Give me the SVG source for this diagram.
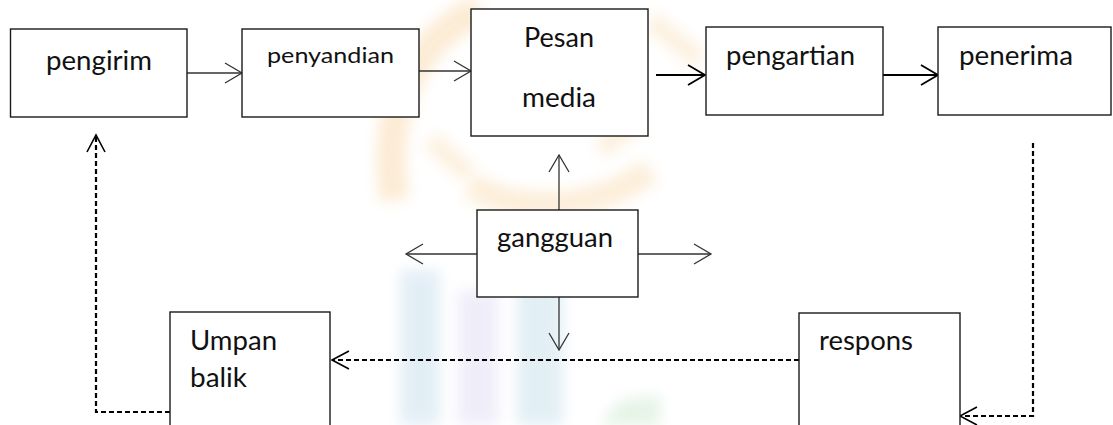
<svg xmlns="http://www.w3.org/2000/svg" width="1113" height="425" viewBox="0 0 1113 425">
<style>
.box{fill:#fff;stroke:#1a1a1a;stroke-width:1.4}
.lbl{font-family:Lato,"Liberation Sans",sans-serif;font-size:26px;fill:#111}
.sm{font-size:22px}
.thin{fill:none;stroke:#333;stroke-width:1.3}
.thick{fill:none;stroke:#000;stroke-width:2}
.dash{fill:none;stroke:#000;stroke-width:2.2;stroke-dasharray:5 3}
</style>
<defs>
<filter id="soft" x="-20%" y="-20%" width="140%" height="140%">
<feGaussianBlur stdDeviation="7"/>
</filter>
<marker id="hThin" markerUnits="userSpaceOnUse" markerWidth="20" markerHeight="22" refX="17" refY="10" orient="auto" overflow="visible">
<path d="M0,0 L17,10 L0,20" fill="none" stroke="#333" stroke-width="1.3"/>
</marker>
<marker id="hThick" markerUnits="userSpaceOnUse" markerWidth="20" markerHeight="22" refX="17" refY="10" orient="auto" overflow="visible">
<path d="M0,0 L17,10 L0,20" fill="none" stroke="#000" stroke-width="1.8"/>
</marker>
<marker id="hDash" markerUnits="userSpaceOnUse" markerWidth="20" markerHeight="22" refX="17" refY="9" orient="auto" overflow="visible">
<path d="M0,0 L17,9 L0,18" fill="none" stroke="#000" stroke-width="1.6" stroke-dasharray="none"/>
</marker>
</defs>
<rect width="1113" height="425" fill="#fff"/>
<g id="watermark" opacity="0.4" filter="url(#soft)">
<path d="M395,200 C380,120 410,40 480,10" fill="none" stroke="#f7cf95" stroke-width="30"/>
<path d="M470,185 C520,215 600,210 650,170" fill="none" stroke="#f8d6a4" stroke-width="26"/>
<path d="M430,140 L470,175 M600,150 L640,120 M650,20 L700,60" fill="none" stroke="#f9dcb0" stroke-width="20"/>
<rect x="400" y="270" width="40" height="155" fill="#b9d6e8"/>
<rect x="458" y="290" width="40" height="135" fill="#d9d3f0"/>
<rect x="517" y="270" width="46" height="155" fill="#b8d8e6"/>
<path d="M600,425 L620,400 L660,395 L660,425 Z" fill="#bfe3c2"/>
</g>
<g id="connectors">
<path class="thin" d="M187,73 L242,73" marker-end="url(#hThin)"/>
<path class="thin" d="M419,71 L471,71" marker-end="url(#hThin)"/>
<path class="thick" d="M656,75 L705,75" marker-end="url(#hThick)"/>
<path class="thick" d="M883,75 L938,75" marker-end="url(#hThick)"/>
<path class="thin" d="M559,210 L559,155" marker-end="url(#hThin)"/>
<path class="thin" d="M477,254 L406,254" marker-end="url(#hThin)"/>
<path class="thin" d="M638,254 L711,254" marker-end="url(#hThin)"/>
<path class="thin" d="M559,297 L559,350" marker-end="url(#hThin)"/>
<path class="dash" d="M1033,143 L1033,416 L960,416" marker-end="url(#hDash)"/>
<path class="dash" d="M799,360 L332,360" marker-end="url(#hDash)"/>
<path class="dash" d="M170,412 L96,412 L96,135" marker-end="url(#hDash)"/>
</g>
<g id="pengirim">
<rect class="box" x="10.5" y="29" width="176.5" height="88"/>
<text class="lbl" x="46" y="70" textLength="106" lengthAdjust="spacingAndGlyphs">pengirim</text>
</g>
<g id="penyandian">
<rect class="box" x="242" y="29" width="177" height="88"/>
<text class="lbl sm" x="267" y="63" textLength="127" lengthAdjust="spacingAndGlyphs">penyandian</text>
</g>
<g id="pesan-media">
<rect class="box" x="471" y="9" width="177" height="127"/>
<text class="lbl" x="524" y="47" textLength="70" lengthAdjust="spacingAndGlyphs">Pesan</text>
<text class="lbl" x="522" y="107" textLength="74" lengthAdjust="spacingAndGlyphs">media</text>
</g>
<g id="pengartian">
<rect class="box" x="706" y="27" width="177" height="88"/>
<text class="lbl" x="726" y="65" textLength="129" lengthAdjust="spacingAndGlyphs">pengartian</text>
</g>
<g id="penerima">
<rect class="box" x="938" y="27" width="173" height="88"/>
<text class="lbl" x="959" y="65" textLength="114" lengthAdjust="spacingAndGlyphs">penerima</text>
</g>
<g id="gangguan">
<rect class="box" x="477" y="210" width="161" height="87"/>
<text class="lbl" x="497" y="247" textLength="116" lengthAdjust="spacingAndGlyphs">gangguan</text>
</g>
<g id="umpan-balik">
<rect class="box" x="170" y="312" width="160" height="130"/>
<text class="lbl" x="190" y="350" textLength="87" lengthAdjust="spacingAndGlyphs">Umpan</text>
<text class="lbl" x="190" y="387" textLength="57" lengthAdjust="spacingAndGlyphs">balik</text>
</g>
<g id="respons">
<rect class="box" x="799" y="313" width="161" height="130"/>
<text class="lbl" x="819" y="350" textLength="94" lengthAdjust="spacingAndGlyphs">respons</text>
</g>
</svg>
